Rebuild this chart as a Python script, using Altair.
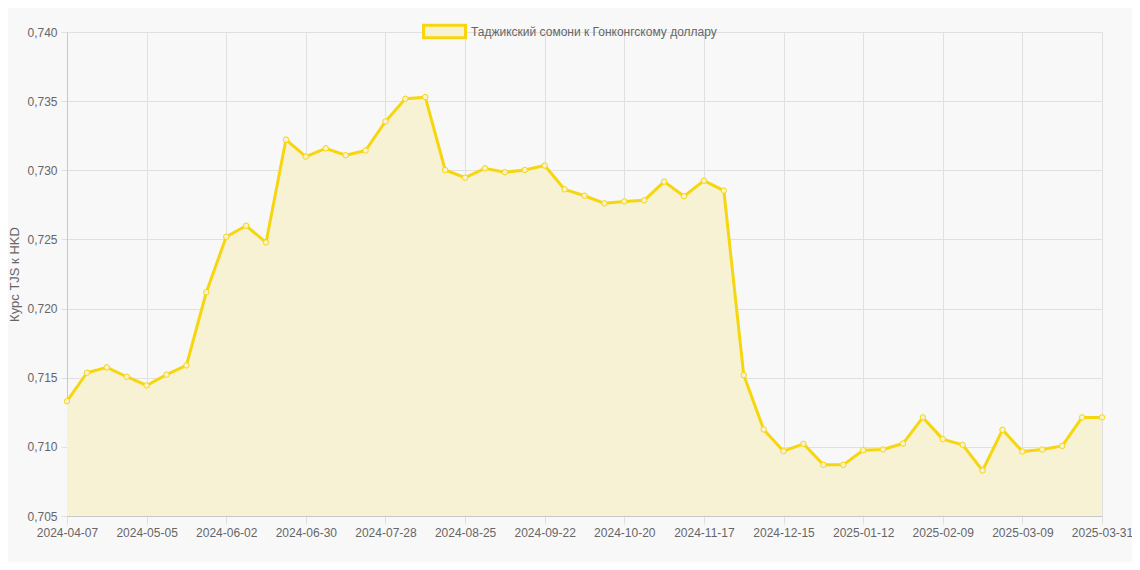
import datetime as dt
import pandas as pd
import altair as alt

# weekly labels, the last one is the end-of-month point
start  = dt.date(2024, 4, 7)
Dates  = [(start + dt.timedelta(weeks=w)).isoformat() for w in range(52)] + ['2025-03-31']
Rates  = [0.71330, 0.71536, 0.71575, 0.71507, 0.71444, 0.71522, 0.71589, 0.72118,
          0.72519, 0.72599, 0.72478, 0.73222, 0.73099, 0.73159, 0.73109, 0.73143,
          0.73353, 0.73517, 0.73529, 0.73002, 0.72947, 0.73014, 0.72986, 0.73002,
          0.73034, 0.72862, 0.72816, 0.72761, 0.72775, 0.72783, 0.72918, 0.72812,
          0.72925, 0.72853, 0.71519, 0.71126, 0.70969, 0.71022, 0.70870, 0.70870,
          0.70976, 0.70981, 0.71024, 0.71213, 0.71056, 0.71014, 0.70829, 0.71123,
          0.70966, 0.70981, 0.71007, 0.71213, 0.71213]
TickDates = Dates[0:52:4] + [Dates[-1]]
SeriesName = 'Таджикский сомони к Гонконгскому доллару'
YMin, YMax = 0.705, 0.740

LineColor = '#f6d60e'
FillColor = '#f8f2d4'
GridColor = '#e0e0e0'
TextColor = '#666666'

df = pd.DataFrame({'Date': Dates, 'Rate': Rates, 'Series': SeriesName})

x = alt.X('Date:O', scale=alt.Scale(type='point', padding=0),
          axis=alt.Axis(title=None, values=TickDates, labelAngle=0, grid=True, gridColor=GridColor,
                        tickColor=GridColor, tickSize=8, labelPadding=3, domainColor='#c8c8c8',
                        labelColor=TextColor, labelFontSize=12, labelFont='Liberation Sans',
                        labelOverlap=False, labelFlush=False, labelBound=False))
y = alt.Y('Rate:Q', scale=alt.Scale(domain=[YMin, YMax], nice=False, zero=False),
          axis=alt.Axis(title='Курс TJS к HKD', values=[0.705, 0.710, 0.715, 0.720, 0.725, 0.730, 0.735, 0.740],
                        labelExpr="replace(format(datum.value, '.3f'), '.', ',')",
                        grid=True, gridColor=GridColor, tickColor=GridColor, tickSize=6, labelPadding=4,
                        domainColor='#c8c8c8', labelColor=TextColor, labelFontSize=12,
                        labelFont='Liberation Sans', titleColor=TextColor, titleFontSize=13,
                        titleFontWeight='normal', titleFont='Liberation Sans', titlePadding=5))

base  = alt.Chart(df)
area  = base.mark_area(color=FillColor, opacity=1, clip=True).encode(x=x, y=y, y2=alt.datum(YMin))
line  = base.mark_line(strokeWidth=3, strokeJoin='round').encode(
    x=x, y=y,
    color=alt.Color('Series:N', scale=alt.Scale(domain=[SeriesName], range=[LineColor]),
                    legend=alt.Legend(title=None, orient='none', legendX=355, legendY=-23,
                                      symbolType='M-1,-0.3L1,-0.3L1,0.3L-1,0.3Z', symbolSize=1764,
                                      symbolStrokeWidth=3, symbolFillColor=FillColor,
                                      labelFontSize=12, labelColor=TextColor, labelFont='Liberation Sans',
                                      labelOffset=4, labelLimit=500, padding=0)))
dots  = base.mark_point(shape='circle', size=30, fill=FillColor, stroke=LineColor,
                        strokeWidth=1, opacity=1).encode(x=x, y=y)

chart = alt.layer(area, line, dots).properties(
    width=1035, height=484,
    autosize=alt.AutoSizeParams(type='none'),
    padding={'left': 59, 'top': 24, 'right': 30, 'bottom': 46},
    background='#f8f8f8',
).configure_view(stroke=None)

chart.save("out.html", embed_options={"renderer": "svg", "actions": False})
